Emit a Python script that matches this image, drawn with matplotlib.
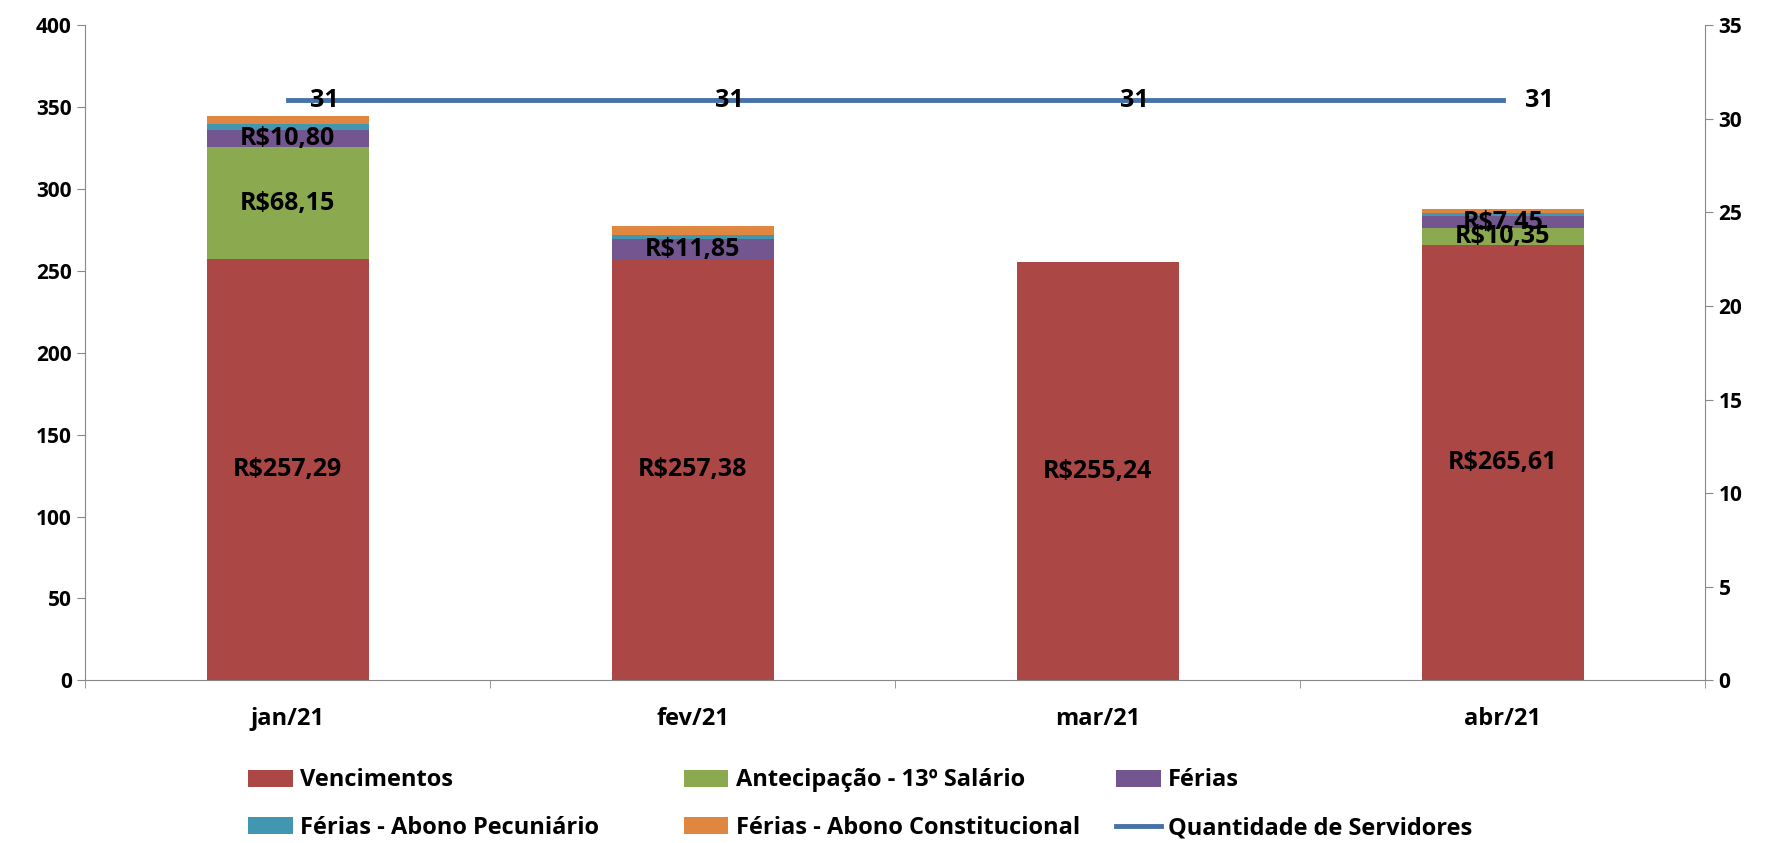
import matplotlib.pyplot as plt
import numpy as np

plt.rcParams['font.family'] = ['Open Sans', 'DejaVu Sans']
plt.rcParams['font.weight'] = 'bold'

# dados (R$ mil)
meses = ['jan/21', 'fev/21', 'mar/21', 'abr/21']
vencimentos = [257.29, 257.38, 255.24, 265.61]
antecipacao_13 = [68.15, 0, 0, 10.35]
ferias = [10.80, 11.85, 0, 7.45]
abono_pecuniario = [3.7, 3.0, 0, 1.8]
abono_constitucional = [4.8, 5.0, 0, 2.4]
servidores = [31, 31, 31, 31]

series = [
    ('Vencimentos', vencimentos, '#AB4745', True),
    ('Antecipação - 13º Salário', antecipacao_13, '#8BA94F', True),
    ('Férias', ferias, '#735590', True),
    ('Férias - Abono Pecuniário', abono_pecuniario, '#4197B0', False),
    ('Férias - Abono Constitucional', abono_constitucional, '#DF8641', False),
]

fig = plt.figure(figsize=(17.71, 8.43), dpi=100)
ax = fig.add_axes([0.048, 0.193, 0.915, 0.777])
x = np.arange(len(meses))
bottom = np.zeros(len(meses))
handles = {}
for nome, vals, cor, rotulo in series:
    vals = np.array(vals)
    b = ax.bar(x, vals, 0.4, bottom=bottom, color=cor, label=nome)
    handles[nome] = b
    if rotulo:
        for xi, v, bt in zip(x, vals, bottom):
            if v > 0:
                txt = 'R$' + f'{v:.2f}'.replace('.', ',')
                ax.text(xi, bt + v / 2, txt, ha='center', va='center',
                        fontsize=18, fontweight='bold')
    bottom += vals

ax.set_xlim(-0.5, 3.5)
ax.set_ylim(0, 400)
ax.set_yticks(range(0, 401, 50))
ax.set_xticks(x)
ax.set_xticklabels(meses)
ax.set_xticks(np.arange(-0.5, 3.6, 1), minor=True)
ax.tick_params(axis='x', which='major', length=0, pad=19, labelsize=17)
ax.tick_params(axis='x', which='minor', length=6, color='#888888')
ax.tick_params(axis='y', labelsize=15, length=6, color='#888888')
for s in ['top', 'right']:
    ax.spines[s].set_visible(False)
for s in ['left', 'bottom']:
    ax.spines[s].set_color('#888888')

ax2 = ax.twinx()
linha, = ax2.plot(x, servidores, color='#4573A8', lw=3.5, label='Quantidade de Servidores')
for xi, v in zip(x, servidores):
    ax2.text(xi + 0.055, v, str(v), ha='left', va='center', fontsize=18, fontweight='bold')
ax2.set_ylim(0, 35)
ax2.set_yticks(range(0, 36, 5))
ax2.tick_params(axis='y', labelsize=15, length=6, color='#888888')
for s in ['top', 'left', 'bottom']:
    ax2.spines[s].set_visible(False)
ax2.spines['right'].set_color('#888888')

# legenda em 3 colunas fixas
colunas = [
    (['Vencimentos', 'Férias - Abono Pecuniário'], 0.140),
    (['Antecipação - 13º Salário', 'Férias - Abono Constitucional'], 0.386),
    (['Férias', 'Quantidade de Servidores'], 0.630),
]
for nomes, xpos in colunas:
    hs = [handles[n] if n in handles else linha for n in nomes]
    fig.legend(hs, nomes, loc='center left', bbox_to_anchor=(xpos, 0.046),
               frameon=False, fontsize=17, handlelength=1.9, handleheight=0.75,
               handletextpad=0.3, labelspacing=1.0, borderpad=0, borderaxespad=0)

fig.savefig('out.png', dpi=100)
